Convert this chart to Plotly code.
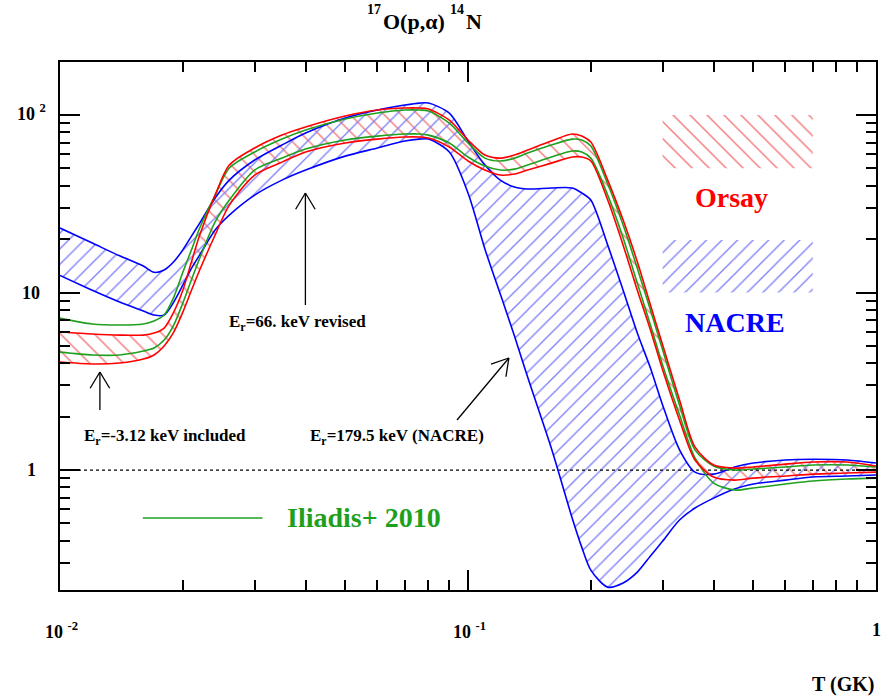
import math
import plotly.graph_objects as go

# Temperature grid (GK)
T_GK = [0.010, 0.012, 0.014, 0.016, 0.017, 0.018, 0.019, 0.020, 0.021, 0.022,
        0.024, 0.026, 0.030, 0.035, 0.040, 0.050, 0.060, 0.070, 0.076, 0.080,
        0.090, 0.100, 0.110, 0.120, 0.130, 0.140, 0.160, 0.180, 0.190, 0.200,
        0.220, 0.240, 0.260, 0.280, 0.300, 0.330, 0.360, 0.400, 0.450, 0.500,
        0.600, 0.700, 0.850, 1.000]

# Rate ratio limits: NACRE
nacre_high = [23.1, 19.0, 16.1, 14.1, 13.0, 13.4, 14.9, 17.4, 20.8, 24.6,
              34.1, 43.0, 55.8, 67.8, 79.2, 96.2, 106.7, 113.8, 116.8, 116.8,
              102.6, 71.4, 52.3, 43.0, 39.3, 38.3, 38.8, 38.8, 36.4, 33.2,
              18.5, 10.3, 5.91, 3.76, 2.32, 1.30, 0.974, 0.949, 1.04, 1.095,
              1.14, 1.15, 1.14, 1.095]
nacre_low = [12.5, 10.3, 8.84, 7.87, 7.47, 7.47, 8.84, 11.0, 13.7, 16.3,
             22.5, 27.3, 35.4, 43.0, 49.0, 58.7, 65.2, 71.4, 73.2, 73.2,
             61.9, 36.4, 17.6, 9.8, 5.69, 3.34, 1.33, 0.537, 0.368, 0.273,
             0.219, 0.231, 0.266, 0.328, 0.398, 0.523, 0.611, 0.695, 0.782, 0.834,
             0.878, 0.913, 0.925, 0.937]

# Rate ratio limits: Orsay
orsay_high = [5.99, 5.84, 5.76, 5.76, 5.91, 6.31, 7.76, 10.3, 14.9, 21.1,
              35.4, 52.3, 65.2, 77.1, 85.6, 98.7, 106.7, 109.5, 109.5, 108.1,
              93.7, 72.3, 59.5, 57.2, 59.5, 63.5, 71.4, 78.2, 76.1, 70.4,
              43.0, 25.6, 14.9, 8.50, 5.06, 2.48, 1.35, 1.067, 1.026, 1.04,
              1.08, 1.11, 1.11, 1.053]
orsay_low = [4.06, 3.96, 4.01, 4.22, 4.45, 5.00, 5.99, 7.76, 10.3, 13.4,
             21.1, 31.1, 45.9, 54.3, 61.9, 69.6, 73.2, 75.2, 75.2, 74.2,
             66.0, 55.1, 49.0, 45.9, 46.5, 49.0, 53.6, 58.0, 58.0, 55.1,
             33.2, 18.5, 10.3, 6.15, 3.66, 1.91, 1.14, 0.913, 0.878, 0.901,
             0.925, 0.949, 0.962, 0.974]

# Rate ratio limits: Iliadis+ 2010
iliadis_high = [7.18, 6.65, 6.56, 6.65, 6.91, 7.47, 9.4, 13.0, 17.4, 23.1,
                35.4, 50.3, 61.9, 73.2, 82.3, 94.9, 102.6, 106.7, 106.7, 105.3,
                90.1, 69.6, 57.2, 55.1, 57.2, 61.1, 67.8, 73.2, 72.3, 66.9,
                40.9, 24.0, 13.7, 7.97, 4.74, 2.32, 1.30, 1.053, 1.0, 1.013,
                1.04, 1.067, 1.067, 1.04]
iliadis_low = [4.62, 4.45, 4.45, 4.68, 4.87, 5.40, 6.56, 8.73, 11.8, 15.6,
               25.0, 33.2, 49.0, 57.2, 64.3, 72.3, 76.1, 78.2, 78.2, 77.1,
               69.6, 58.0, 51.6, 49.0, 49.6, 52.3, 58.0, 62.7, 61.9, 57.2,
               35.4, 20.3, 11.3, 6.56, 3.90, 2.04, 1.17, 0.845, 0.772, 0.792,
               0.834, 0.867, 0.890, 0.901]

X_TICKS = [0.01, 0.1, 1]
X_TICK_TEXT = ["10 <sup>-2</sup>", "10 <sup>-1</sup>", "1"]
Y_TICKS = [1, 10, 100]
Y_TICK_TEXT = ["1", "10", "10 <sup>2</sup>"]

RED, GREEN, BLUE = "#ff0000", "#1ea01e", "#0000ff"
RED_HATCH, BLUE_HATCH = "#f27c7c", "#7c7cf6"
FONT = "Liberation Serif"

W, H = 888, 696
L, R, TOP, BOT = 60, 878, 62, 590
Y_MIN, Y_MAX = 0.211, 199.0


def px(xp):
    return (xp - L) / (R - L)


def py(yp):
    return (BOT - yp) / (BOT - TOP)


fig = go.Figure()


def band(hi, lo, color, shape, size):
    fig.add_trace(go.Scatter(
        x=T_GK + T_GK[::-1], y=hi + lo[::-1], mode="lines",
        fill="toself", fillcolor="rgba(0,0,0,0)",
        line=dict(width=0, shape="spline", smoothing=0.8),
        fillpattern=dict(shape=shape, fgcolor=color, bgcolor="rgba(0,0,0,0)",
                         size=size, solidity=0.12, fillmode="replace"),
        hoverinfo="skip", showlegend=False))


band(orsay_high, orsay_low, RED_HATCH, "\\", 12)
band(nacre_high, nacre_low, BLUE_HATCH, "/", 11)

# hatched key boxes
for (x0, x1, y0, y1), color, shape, size in [
        ((0.30, 0.70, 50.2, 100.0), RED_HATCH, "\\", 12),
        ((0.30, 0.70, 10.0, 19.8), BLUE_HATCH, "/", 11)]:
    fig.add_trace(go.Scatter(
        x=[x0, x1, x1, x0, x0], y=[y0, y0, y1, y1, y0], mode="lines",
        fill="toself", fillcolor="rgba(0,0,0,0)", line=dict(width=0),
        fillpattern=dict(shape=shape, fgcolor=color, bgcolor="rgba(0,0,0,0)",
                         size=size, solidity=0.12, fillmode="replace"),
        hoverinfo="skip", showlegend=False))

# unit ratio reference
fig.add_trace(go.Scatter(x=[0.01, 1], y=[1, 1], mode="lines",
                         line=dict(color="black", width=1.3, dash="dot"),
                         hoverinfo="skip", showlegend=False))

for series, color in [(nacre_high, BLUE), (nacre_low, BLUE),
                      (iliadis_high, GREEN), (iliadis_low, GREEN),
                      (orsay_high, RED), (orsay_low, RED)]:
    fig.add_trace(go.Scatter(x=T_GK, y=series, mode="lines",
                             line=dict(color=color, width=1.6, shape="spline", smoothing=0.8),
                             hoverinfo="skip", showlegend=False))

axis_common = dict(type="log", showgrid=False, zeroline=False, showline=True,
                   linecolor="black", linewidth=2, mirror="allticks",
                   ticks="inside", ticklen=20, tickwidth=1.5, tickcolor="black",
                   dtick=1, showticklabels=False,
                   minor=dict(ticks="inside", ticklen=10, tickwidth=1.5,
                              tickcolor="black", dtick="D1", showgrid=False))

fig.update_layout(
    width=W, height=H,
    margin=dict(l=L, r=W - R, t=TOP, b=H - BOT),
    paper_bgcolor="white", plot_bgcolor="white",
    xaxis=dict(range=[-2, 0], **axis_common),
    yaxis=dict(range=[math.log10(Y_MIN), math.log10(Y_MAX)], **axis_common),
    font=dict(family=FONT, color="black"),
)


def text(xp, yp, s, size, color="black", xanchor="center"):
    fig.add_annotation(x=px(xp), y=py(yp), xref="paper", yref="paper",
                       text="<b>%s</b>" % s, showarrow=False, xanchor=xanchor,
                       yanchor="middle",
                       font=dict(family=FONT, size=size, color=color))


# tick labels
for v, s in zip(X_TICKS, X_TICK_TEXT):
    xp = L + (math.log10(v) + 2) / 2 * (R - L)
    text(xp + (2 if v < 1 else 0), 630, s, 18)
for v, s in zip(Y_TICKS, Y_TICK_TEXT):
    yp = BOT - (math.log10(v) - math.log10(Y_MIN)) / (math.log10(Y_MAX) - math.log10(Y_MIN)) * (BOT - TOP)
    text(31, yp - (3 if v == 100 else 0), s, 18)

text(878, 684, "T (GK)", 20, xanchor="right")

# reaction title with raised mass numbers
text(382, 21, "O(p,α)", 22, xanchor="left")
text(465, 21, "N", 22, xanchor="left")
text(375, 9, "17", 14)
text(458, 9, "14", 14)

text(733, 197, "Orsay", 28, RED)
text(737, 322, "NACRE", 28, BLUE)
text(365, 517, "Iliadis+ 2010", 28, GREEN)
fig.add_shape(type="line", xref="paper", yref="paper",
              x0=px(143), x1=px(263), y0=py(518), y1=py(518),
              line=dict(color=GREEN, width=1.6))

text(298, 323, "E<sub>r</sub>=66. keV revised", 17)
text(165, 437, "E<sub>r</sub>=-3.12 keV included", 17)
text(398, 437, "E<sub>r</sub>=179.5 keV (NACRE)", 17)


def seg(x0, y0, x1, y1):
    fig.add_shape(type="line", xref="paper", yref="paper",
                  x0=px(x0), y0=py(y0), x1=px(x1), y1=py(y1),
                  line=dict(color="black", width=1.3))


def arrow(tip, tail, head=19, spread=math.radians(31)):
    tx, ty = tip
    seg(tail[0], tail[1], tx, ty)
    ang = math.atan2(tail[1] - ty, tail[0] - tx)
    for s in (-spread, spread):
        seg(tx, ty, tx + head * math.cos(ang + s), ty + head * math.sin(ang + s))


arrow((306, 193), (306, 305))
arrow((100, 372), (100, 410))
arrow((510, 358), (458, 420))

fig.write_html("out.html")
